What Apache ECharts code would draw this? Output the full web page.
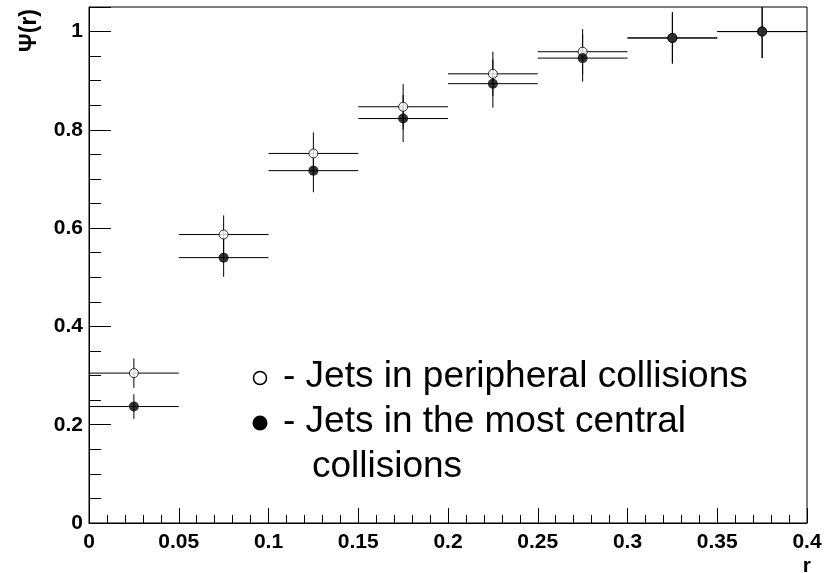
<!DOCTYPE html>
<html>
<head>
<meta charset="utf-8">
<script src="https://cdn.jsdelivr.net/npm/echarts@6/dist/echarts.min.js"></script>
<style>
  html, body { margin: 0; padding: 0; background: #fff; }
  #chart { width: 830px; height: 573px; }
</style>
</head>
<body>
<div id="chart"></div>
<script>
// Jet shape Psi(r): bins in r, centre and half width
const binCenters   = [0.025, 0.075, 0.125, 0.175, 0.225, 0.275, 0.325, 0.375];
const binHalfWidth = [0.025, 0.025, 0.025, 0.025, 0.025, 0.025, 0.025, 0.025];

// Jets in peripheral collisions (open circles)
const peripheral    = [0.305, 0.587, 0.752, 0.847, 0.914, 0.959, 0.987, 1.000];
const peripheralErr = [0.030, 0.039, 0.043, 0.046, 0.045, 0.046, 0.052, 0.054];

// Jets in the most central collisions (filled circles)
const central    = [0.237, 0.540, 0.717, 0.823, 0.894, 0.946, 0.987, 1.000];
const centralErr = [0.025, 0.039, 0.044, 0.048, 0.049, 0.048, 0.052, 0.054];

const legendLines = [
  '- Jets in peripheral collisions',
  '- Jets in the most central',
  'collisions'
];

const FONT = '"Liberation Sans", Arial, Helvetica, sans-serif';

function errorBarSeries(values, errors) {
  return {
    type: 'custom',
    silent: true,
    clip: true,
    z: 2,
    dimensions: ['r', 'psi', 'hw', 'err'],
    encode: { x: 0, y: 1 },
    data: binCenters.map((r, i) => [r, values[i], binHalfWidth[i], errors[i]]),
    renderItem(params, api) {
      const r = api.value(0), v = api.value(1), hw = api.value(2), e = api.value(3);
      const cs = params.coordSys;
      const left = api.coord([r - hw, v]);
      const right = api.coord([r + hw, v]);
      const top = api.coord([r, v + e]);
      const bottom = api.coord([r, v - e]);
      const yTop = Math.max(top[1], cs.y);
      const yBot = Math.min(bottom[1], cs.y + cs.height);
      const style = { stroke: '#000', lineWidth: 1 };
      return {
        type: 'group',
        children: [
          { type: 'line', shape: { x1: left[0], y1: left[1], x2: right[0], y2: right[1] }, style },
          { type: 'line', shape: { x1: top[0], y1: yTop, x2: bottom[0], y2: yBot }, style }
        ]
      };
    }
  };
}

const chart = echarts.init(document.getElementById('chart'), null, { renderer: 'canvas' });

const labelFmt = v => (v === 0 ? '0' : String(parseFloat(v.toFixed(3))));

chart.setOption({
  animation: false,
  backgroundColor: '#fff',
  grid: {
    left: 89, right: 23, top: 7, bottom: 50,
    show: true, borderColor: '#000', borderWidth: 1, backgroundColor: 'transparent'
  },
  xAxis: {
    type: 'value',
    min: 0, max: 0.4, interval: 0.05,
    axisLine: { show: true, onZero: false, lineStyle: { color: '#000', width: 1 } },
    axisTick: { show: true, inside: true, length: 15, lineStyle: { color: '#000' } },
    minorTick: { show: true, splitNumber: 5, length: 8, lineStyle: { color: '#000' } },
    splitLine: { show: false },
    axisLabel: {
      margin: 9, color: '#000', fontFamily: FONT, fontWeight: 'bold', fontSize: 21,
      formatter: labelFmt
    }
  },
  yAxis: {
    type: 'value',
    min: 0, max: 1.05, interval: 0.2,
    axisLine: { show: true, onZero: false, lineStyle: { color: '#000', width: 1 } },
    axisTick: { show: true, inside: true, length: 22, lineStyle: { color: '#000' } },
    minorTick: { show: true, splitNumber: 4, length: 12, lineStyle: { color: '#000' } },
    splitLine: { show: false },
    axisLabel: {
      margin: 6, color: '#000', fontFamily: FONT, fontWeight: 'bold', fontSize: 21,
      showMaxLabel: false,
      formatter: labelFmt
    }
  },
  series: [
    errorBarSeries(peripheral, peripheralErr),
    errorBarSeries(central, centralErr),
    {
      type: 'scatter',
      name: 'peripheral',
      z: 3,
      symbol: 'circle',
      symbolSize: 9,
      itemStyle: { color: '#fff', borderColor: '#000', borderWidth: 1 },
      data: binCenters.map((r, i) => [r, peripheral[i]])
    },
    {
      type: 'scatter',
      name: 'central',
      z: 4,
      symbol: 'circle',
      symbolSize: 10,
      itemStyle: { color: '#000', borderColor: '#000', borderWidth: 0 },
      data: binCenters.map((r, i) => [r, central[i]])
    }
  ],
  graphic: [
    // axis titles
    {
      type: 'text', left: 18, top: 9, rotation: Math.PI / 2,
      style: { text: 'Ψ(r)', font: 'bold 23px ' + FONT, fill: '#000' }
    },
    {
      type: 'text', right: 19, top: 556,
      style: { text: 'r', font: 'bold 21px ' + FONT, fill: '#000' }
    },
    // legend markers
    {
      type: 'circle', shape: { cx: 260, cy: 378, r: 6.5 },
      style: { fill: '#fff', stroke: '#000', lineWidth: 1.5 }
    },
    {
      type: 'circle', shape: { cx: 260, cy: 423, r: 7.5 },
      style: { fill: '#000' }
    },
    // legend text
    {
      type: 'text', left: 283, top: 358,
      style: { text: legendLines[0], font: '37px ' + FONT, fill: '#000' }
    },
    {
      type: 'text', left: 283, top: 403,
      style: { text: legendLines[1], font: '37px ' + FONT, fill: '#000' }
    },
    {
      type: 'text', left: 312, top: 448,
      style: { text: legendLines[2], font: '37px ' + FONT, fill: '#000' }
    }
  ]
});
</script>
</body>
</html>
